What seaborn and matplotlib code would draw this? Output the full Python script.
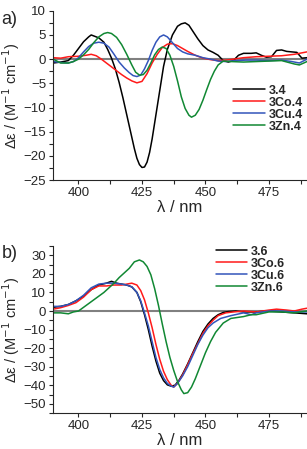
import numpy as np
import pandas as pd
import matplotlib
matplotlib.use("Agg")
import matplotlib.pyplot as plt
import seaborn as sns
from matplotlib.ticker import MultipleLocator

# panel a) wavelengths (nm) and CD values
wl_a_34 = [390, 393, 396, 398, 400, 402, 404, 405, 406, 408, 410, 411.5, 413, 414.5, 416, 417.5, 419, 420.5,
           422, 423, 424, 425, 426, 427, 428, 429, 430.5, 432, 433.5, 435, 437, 439, 440.5, 442, 443.5, 445,
           447, 449, 451, 453, 455, 457, 459, 461, 463, 465, 468, 470, 472, 474, 476, 478, 480, 482, 484,
           486, 488, 490]
cd_a_34 = [-0.8, -0.6, -0.3, 0.8, 2.2, 3.6, 4.6, 5.0, 4.8, 4.4, 3.5, 2.0, 0.2, -2.0, -4.8, -8.0, -11.5,
           -15.0, -18.5, -20.5, -21.8, -22.4, -22.3, -21.3, -19.3, -16.5, -11.5, -6.5, -1.5, 2.0, 5.0, 6.8,
           7.3, 7.5, 7.0, 5.8, 4.2, 2.8, 1.9, 1.4, 0.8, -0.3, -0.6, -0.3, 0.8, 1.2, 1.2, 1.3, 0.8, 0.4, 0.5,
           1.8, 1.9, 1.6, 1.5, 1.4, 0.2, 0.3]

wl_a_co = [390, 393, 396, 400, 403, 405, 407, 409, 411, 413, 415, 417, 419, 421, 423, 425, 427, 429, 431,
           433, 435, 437, 439, 441, 443, 446, 449, 452, 455, 458, 461, 465, 470, 475, 480, 485, 490]
cd_a_co = [0.3, 0.2, 0.5, 0.6, 0.8, 1.0, 0.7, 0.0, -0.8, -1.6, -2.4, -3.2, -3.9, -4.5, -4.9, -4.6, -3.0,
           -0.8, 1.0, 2.4, 3.1, 3.2, 2.8, 2.2, 1.6, 0.8, 0.2, -0.1, -0.3, -0.2, 0.0, 0.3, 0.5, 0.6, 0.7,
           1.0, 1.5]

wl_a_cu = [390, 393, 396, 398, 400, 402, 404, 406, 408, 410, 412, 414, 416, 418, 420, 421.5, 423, 424.5,
           426, 427.5, 429, 430.5, 432, 433.5, 435, 437, 439, 441, 443, 446, 449, 452, 455, 458, 462, 466,
           470, 475, 480, 484, 487, 490]
cd_a_cu = [-0.5, -0.7, -0.8, -0.5, 0.3, 1.5, 2.6, 3.3, 3.5, 3.3, 2.5, 1.0, -0.6, -1.8, -2.8, -3.4, -3.6,
           -3.3, -2.0, -0.3, 1.8, 3.5, 4.6, 5.0, 4.6, 3.4, 2.2, 1.5, 1.1, 0.8, 0.3, 0.0, -0.4, -0.5, -0.3,
           -0.2, -0.2, -0.3, -0.2, -0.5, -0.8, 0.0]

wl_a_zn = [390, 393, 396, 398, 400, 402, 404, 406, 408, 410, 411.5, 413, 415, 417, 419, 421, 422.5, 424,
           425.5, 427, 428.5, 430, 431.5, 433, 434.5, 436, 437.5, 439, 440.5, 442, 443.5, 444.5, 446, 447.5,
           449, 450.5, 452, 453.5, 455, 457, 460, 465, 470, 475, 480, 485, 487, 490]
cd_a_zn = [0.0, -0.8, -0.8, -0.5, 0.0, 0.9, 2.0, 3.4, 4.6, 5.3, 5.5, 5.3, 4.5, 3.0, 1.0, -1.2, -2.7, -3.3,
           -3.2, -2.3, -0.8, 0.9, 2.0, 2.5, 2.2, 0.8, -1.5, -4.5, -7.8, -10.2, -11.6, -12.0, -11.6, -10.4,
           -8.5, -6.3, -4.2, -2.5, -1.2, -0.4, -0.5, -0.6, -0.5, -0.4, -0.3, -1.0, -1.2, -0.5]

# panel b)
wl_b_36 = [390, 393, 396, 399, 402, 405, 408, 411, 413, 415, 417, 419, 421, 423, 424.5, 426, 427.5, 429,
           430.5, 432, 433.5, 435, 436.5, 438, 439.5, 441, 443, 445, 447, 449, 451, 453, 455, 457, 459, 462,
           465, 470, 475, 480, 485, 490]
cd_b_36 = [2.0, 2.5, 3.5, 5.5, 8.0, 11.5, 14.0, 15.0, 16.0, 15.0, 14.5, 14.0, 13.0, 10.0, 5.0, -2.0,
           -10.0, -19.0, -27.0, -33.5, -37.5, -39.8, -40.5, -40.0, -37.5, -34.0, -28.5, -22.5, -16.5, -11.0,
           -7.0, -4.0, -2.0, -0.8, -0.3, 0.0, -0.5, -0.5, 0.0, -0.5, -1.0, -1.5]

wl_b_co = [390, 393, 396, 399, 402, 405, 408, 411, 414, 417, 419, 421, 423, 424.5, 426, 427.5, 429, 430.5,
           432, 433.5, 435, 436.5, 437.5, 439, 441, 443, 445, 447, 449, 451, 453, 455, 458, 461, 465, 470,
           475, 478, 482, 485, 488, 490]
cd_b_co = [1.0, 1.8, 3.0, 4.5, 7.5, 11.5, 13.5, 13.5, 14.0, 14.0, 14.5, 15.0, 14.0, 11.0, 6.0, -1.0, -9.0,
           -18.0, -26.0, -32.5, -37.0, -40.0, -41.0, -39.0, -34.5, -29.0, -23.0, -17.5, -12.0, -8.0, -5.0,
           -2.5, -1.0, -0.5, 0.0, -0.5, 0.5, 1.0, 0.5, 0.0, 1.0, 1.5]

wl_b_cu = [390, 393, 396, 399, 402, 405, 408, 411, 414, 417, 419, 421, 423, 424.5, 426, 427.5, 429, 430.5,
           432, 433.5, 435, 436.5, 437.5, 439, 441, 443, 445, 447, 449, 451, 453, 456, 460, 465, 468, 470,
           475, 480, 485, 490]
cd_b_cu = [2.5, 2.5, 3.5, 5.5, 8.5, 12.5, 14.5, 15.0, 15.0, 14.5, 14.0, 13.0, 10.0, 5.5, -1.0, -8.0,
           -16.5, -25.0, -31.5, -36.0, -39.0, -40.5, -41.0, -39.0, -35.0, -30.0, -24.0, -18.0, -13.0, -9.0,
           -6.5, -4.0, -2.5, -1.0, -2.0, -1.0, 0.0, 0.0, -0.5, -0.5]

wl_b_zn = [390, 393, 396, 398, 400, 402, 404, 406, 408, 410, 412, 414, 416, 418, 420, 422, 424, 425.5,
           427, 428.5, 430, 431.5, 433, 434.5, 436, 437.5, 439, 440.5, 441.5, 443, 444.5, 446, 448, 450, 452,
           454, 457, 460, 465, 468, 470, 475, 480, 485, 490]
cd_b_zn = [-1.0, -1.0, -1.5, -0.5, 0.0, 2.0, 4.0, 6.0, 8.0, 10.0, 12.5, 15.0, 18.0, 20.5, 23.0, 26.5,
           27.5, 26.5, 24.0, 19.5, 12.0, 3.0, -7.0, -16.5, -25.0, -32.0, -38.0, -42.5, -44.5, -44.0, -41.0,
           -36.5, -29.5, -22.5, -16.5, -11.5, -6.5, -4.0, -3.0, -2.0, -2.0, -0.5, -0.5, -1.0, 0.0]

labels_a = ["3.4", "3Co.4", "3Cu.4", "3Zn.4"]
labels_b = ["3.6", "3Co.6", "3Cu.6", "3Zn.6"]
colors = ["#000000", "#ff1a1a", "#3355bb", "#118833"]


def make_df(wls, cds, labels):
    frames = []
    for w, c, lab in zip(wls, cds, labels):
        frames.append(pd.DataFrame({"wl": w, "cd": c, "sample": lab}))
    return pd.concat(frames, ignore_index=True)


df_a = make_df([wl_a_34, wl_a_co, wl_a_cu, wl_a_zn], [cd_a_34, cd_a_co, cd_a_cu, cd_a_zn], labels_a)
df_b = make_df([wl_b_36, wl_b_co, wl_b_cu, wl_b_zn], [cd_b_36, cd_b_co, cd_b_cu, cd_b_zn], labels_b)

sns.set_style("ticks")
plt.rcParams["font.family"] = ["Liberation Sans", "DejaVu Sans"]

fig = plt.figure(figsize=(3.07, 4.49), dpi=100)
ax1 = fig.add_axes([0.173, 0.599, 0.827, 0.377])
ax2 = fig.add_axes([0.173, 0.080, 0.827, 0.372])

for ax, df, labels, ylim, ymaj, ymin, legpos in [
        (ax1, df_a, labels_a, (-25, 10), 5, 2.5, (0.685, 0.6)),
        (ax2, df_b, labels_b, (-55, 35), 10, 5, (0.615, 1.04))]:
    ax.axhline(0, color="#808080", lw=1.5, zorder=1)
    sns.lineplot(data=df, x="wl", y="cd", hue="sample", hue_order=labels,
                 palette=dict(zip(labels, colors)), lw=1.1, ax=ax, sort=False)
    ax.set_xlim(390, 490)
    ax.set_ylim(*ylim)
    ax.xaxis.set_major_locator(MultipleLocator(25))
    ax.xaxis.set_minor_locator(MultipleLocator(12.5))
    ax.yaxis.set_major_locator(MultipleLocator(ymaj))
    ax.yaxis.set_minor_locator(MultipleLocator(ymin))
    ax.tick_params(which="both", direction="out", length=3, width=0.8, labelsize=9.5, pad=2)
    ax.set_xlabel("λ / nm", fontsize=12, labelpad=1)
    ax.set_ylabel("Δε / (M$^{-1}$ cm$^{-1}$)", fontsize=10.5, labelpad=1)
    for s in ["left", "bottom"]:
        ax.spines[s].set_linewidth(0.8)
    sns.despine(ax=ax)
    leg = ax.legend(loc="upper left", bbox_to_anchor=legpos, frameon=False,
                    handlelength=2.5, handletextpad=0.3, labelspacing=0.0,
                    borderpad=0, prop={"weight": "bold", "size": 9})

fig.text(0.005, 0.975, "a)", fontsize=13, va="top")
fig.text(0.005, 0.455, "b)", fontsize=13, va="top")

fig.savefig("out.png", dpi=100)
